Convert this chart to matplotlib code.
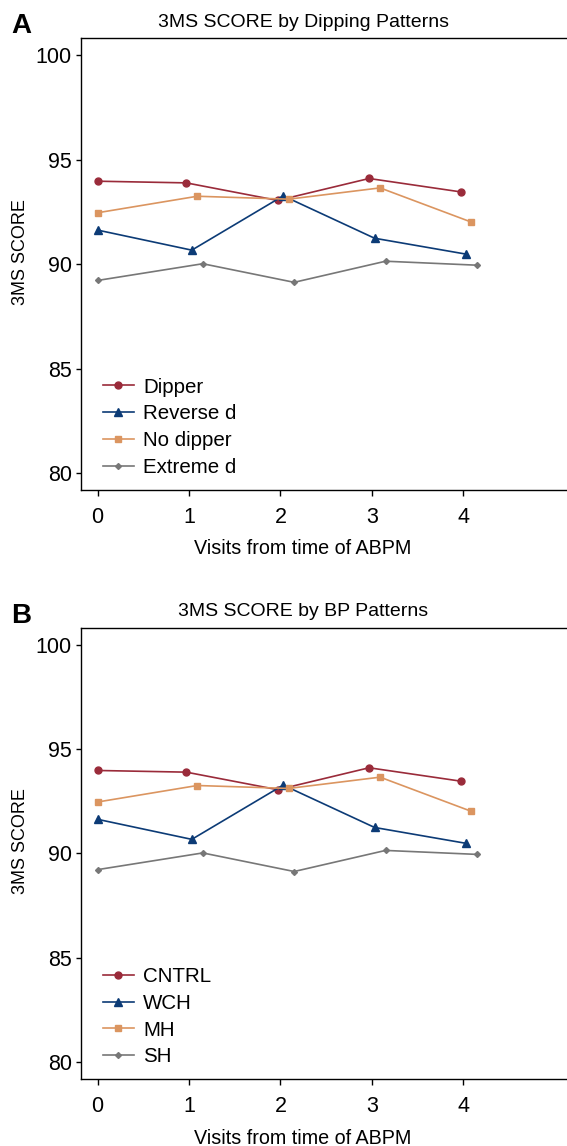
import numpy as np
import matplotlib
matplotlib.use("Agg")
import matplotlib.pyplot as plt

plt.rcParams['font.family'] = ['Liberation Sans', 'DejaVu Sans']

visits = np.array([0, 1, 2, 3, 4])

dipping_labels = ["Dipper", "Reverse d", "No dipper", "Extreme d"]
bp_labels = ["CNTRL", "WCH", "MH", "SH"]

score_1 = [93.97, 93.89, 93.05, 94.10, 93.46]
score_2 = [91.63, 90.67, 93.27, 91.24, 90.48]
score_3 = [92.46, 93.25, 93.11, 93.65, 92.01]
score_4 = [89.22, 90.02, 89.13, 90.14, 89.95]

# horizontal dodge of each series (visit 0 is not dodged)
dodge = [-0.03, 0.03, 0.09, 0.15]

colors = ["#9a2b3a", "#0c3b76", "#db9560", "#777777"]
markers = ["o", "^", "s", "D"]
msizes = [5, 6, 5, 3]

W, H = 567, 1146
fig = plt.figure(figsize=(W / 100, H / 100), dpi=100)


def fx(px):
    return px / W


def fy(py):
    return 1 - py / H


def panel(top, bottom, letter, title, labels, shift):
    ax = fig.add_axes([fx(81), fy(bottom), 1 - fx(81), (bottom - top) / H])
    series = [score_1, score_2, score_3, score_4]
    for i, s in enumerate(series):
        x = visits + dodge[i] * (visits > 0)
        ax.plot(x, s, color=colors[i], marker=markers[i], markersize=msizes[i],
                linewidth=1.2, label=labels[i])
    ax.set_xlim(-0.182, 5.135)
    ax.set_ylim(79.19, 100.81)
    ax.set_xticks([0, 1, 2, 3, 4])
    ax.set_yticks([80, 85, 90, 95, 100])
    ax.spines['right'].set_visible(False)
    for sp in ['left', 'bottom', 'top']:
        ax.spines[sp].set_linewidth(1.0)
    ax.tick_params(axis='x', length=4.5, width=1, pad=7.5, labelsize=15.5)
    ax.tick_params(axis='y', length=3.6, width=1, pad=3, labelsize=15.5)
    ax.legend(loc='lower left', frameon=False, fontsize=14.8, handlelength=1.5,
              handletextpad=0.45, labelspacing=0.38, borderaxespad=0,
              borderpad=0, bbox_to_anchor=(fx(103), fy(477 + shift)),
              bbox_transform=fig.transFigure)

    fig.text(fx(303), fy(26.7 + shift), title, ha='center', va='baseline', fontsize=14)
    fig.text(fx(11), fy(33.3 + shift), letter, ha='left', va='baseline',
             fontsize=20, fontweight='bold')
    fig.text(fx(303), fy(554 + shift), "Visits from time of ABPM", ha='center',
             va='baseline', fontsize=14.2)
    fig.text(fx(21), fy(252 + shift), "3MS SCORE", ha='center', va='center',
             rotation=90, fontsize=13)
    return ax


panel(38.3, 490, "A", "3MS SCORE by Dipping Patterns", dipping_labels, 0)
panel(627.7, 1079, "B", "3MS SCORE by BP Patterns", bp_labels, 589.5)

fig.savefig("out.png", dpi=100)
